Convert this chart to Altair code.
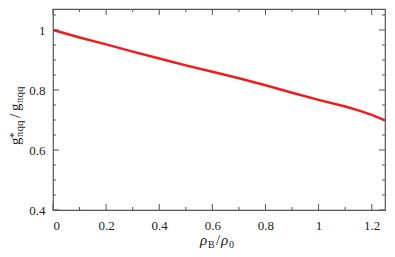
import altair as alt
import pandas as pd

# data
rho = [0.0, 0.1, 0.2, 0.3, 0.4, 0.5, 0.6, 0.7, 0.8, 0.9, 1.0, 1.1, 1.15, 1.2, 1.25]
ratio = [1.000, 0.975, 0.952, 0.928, 0.905, 0.882, 0.861, 0.839, 0.816, 0.791, 0.767, 0.745, 0.732, 0.717, 0.699]

x_major = [0.0, 0.2, 0.4, 0.6, 0.8, 1.0, 1.2]
x_minor = [0.1, 0.3, 0.5, 0.7, 0.9, 1.1]
y_major = [0.4, 0.6, 0.8, 1.0]
y_minor = [0.45, 0.5, 0.55, 0.65, 0.7, 0.75, 0.85, 0.9, 0.95, 1.05]

W, H = 332, 201
FONT = "Liberation Serif"
AX = "#555555"
xs = alt.Scale(domain=[0, 1.25], nice=False, zero=False)
ys = alt.Scale(domain=[0.4, 1.07], nice=False, zero=False)

XAX = alt.Axis(values=x_major, format="~g", title=None, grid=False, domain=False, ticks=False,
               labelFont=FONT, labelFontSize=13, labelColor="#222", labelPadding=9)
YAX = alt.Axis(values=y_major, format="~g", title=None, grid=False, domain=False, ticks=False,
               labelFont=FONT, labelFontSize=13, labelColor="#222", labelPadding=8)

df = pd.DataFrame({"rho": rho, "g": ratio})

line = alt.Chart(df).mark_line(color="#ee1c1c", strokeWidth=2.5, clip=True).encode(
    x=alt.X("rho:Q", scale=xs, axis=XAX),
    y=alt.Y("g:Q", scale=ys, axis=YAX),
)

def xticks(vals, L):
    d = pd.DataFrame({"rho": vals})
    b = alt.Chart(d).mark_rule(color=AX, strokeWidth=1).encode(
        x=alt.X("rho:Q", scale=xs, axis=XAX), y=alt.value(H), y2=alt.value(H - L))
    t = alt.Chart(d).mark_rule(color=AX, strokeWidth=1).encode(
        x=alt.X("rho:Q", scale=xs, axis=XAX), y=alt.value(0), y2=alt.value(L))
    return b + t

def yticks(vals, L):
    d = pd.DataFrame({"g": vals})
    l = alt.Chart(d).mark_rule(color=AX, strokeWidth=1).encode(
        y=alt.Y("g:Q", scale=ys, axis=YAX), x=alt.value(0), x2=alt.value(L))
    r = alt.Chart(d).mark_rule(color=AX, strokeWidth=1).encode(
        y=alt.Y("g:Q", scale=ys, axis=YAX), x=alt.value(W), x2=alt.value(W - L))
    return l + r

one = pd.DataFrame({"a": [0]})

def txt(t, x, y, size, angle=0, style="normal"):
    return alt.Chart(one).mark_text(text=t, font=FONT, fontSize=size, fontStyle=style,
                                    align="left", baseline="alphabetic", angle=angle,
                                    color="#222").encode(x=alt.value(x), y=alt.value(y))

# x title: rho_B / rho_0
xt = (txt("ρ", 147, 236, 15, style="italic") + txt("B", 155, 239, 10)
      + txt("/", 163, 236, 15) + txt("ρ", 168, 236, 15, style="italic") + txt("0", 176, 239, 10))

# y title: g*_{pi qq} / g_{pi qq}  (rotated)
bx = -33
yt = (txt("g", bx, 136, 15, angle=270)
      + txt("*", bx - 3, 129, 11, angle=270)
      + txt("πqq", bx + 3, 128, 11, angle=270)
      + txt("/", bx, 109, 15, angle=270)
      + txt("g", bx, 102, 15, angle=270)
      + txt("πqq", bx + 3, 94, 11, angle=270))

chart = alt.layer(
    line, xticks(x_major, 6), xticks(x_minor, 3), yticks(y_major, 6), yticks(y_minor, 3), xt, yt
).properties(
    width=W, height=H, autosize=alt.AutoSizeParams(type="none"),
    padding={"left": 45, "top": 1, "right": 2, "bottom": 39},
).configure_view(stroke=AX, strokeWidth=1.2)

chart.save("out.html", embed_options={"renderer": "svg", "actions": False})
